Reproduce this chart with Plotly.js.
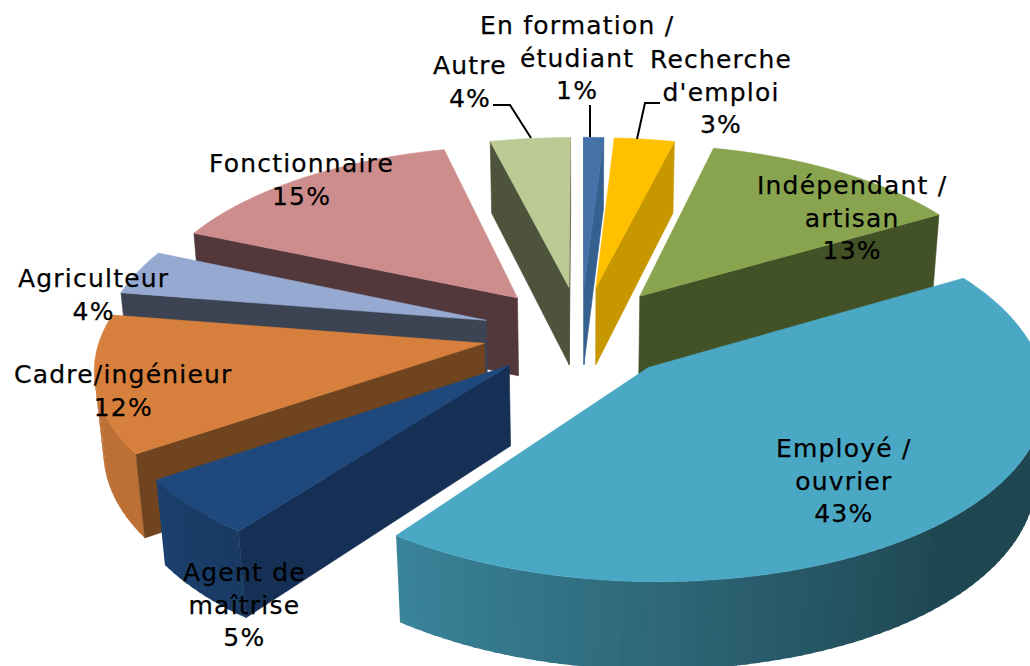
<!DOCTYPE html>
<html><head><meta charset="utf-8">
<script src="https://cdn.plot.ly/plotly-3.0.1.min.js"></script>
<style>html,body{margin:0;padding:0;background:#fff}#chart{width:1030px;height:666px}
.annotation-text{letter-spacing:1.2px;stroke:#000;stroke-width:.25px}</style>
</head><body><div id="chart"></div>
<script>
// ---- data ----
const categories = ["En formation /<br>étudiant","Recherche<br>d'emploi","Indépendant /<br>artisan","Employé /<br>ouvrier","Agent de<br>maîtrise","Cadre/ingénieur","Agriculteur","Fonctionnaire","Autre"];
const percents   = [1,3,13,43,5,12,4,15,4];
// ---- styles ----
const topColors  = ["#4472A8","#FFC000","#88A44E","#4AA8C4","#1F497D","#D77F3C","#95A9D1","#CD8D8D","#BCCB96"];
const wallColors = ["#34608F","#C79700","#435126","#1F4450","#152F55","#6F441F","#3C4454","#52383A","#4E533B"];
const labelX = [577,721,852,844,244,123,93,301,470];
const labelY = [58,92,218,481,605,391,295,180,82];
// ---- 3D exploded pie model ----
const PULL=0.26, THICK=0.24, F=380, CX=581, CY=332, ELEV=28*Math.PI/180, DIST=7.2, DISTX=6.1, SQUARE=4;
const S=Math.sin(ELEV), C=Math.cos(ELEV);
const rad=a=>a*Math.PI/180;
function project(p){const d=1+(p[1]*C-p[2]*S)/DIST, dx=1+(p[1]*C-p[2]*S)/DISTX;
  return [CX+F*p[0]/dx, CY-F*(p[1]*S+p[2]*C)/d-SQUARE*p[0]*p[0]];}
const CAM=[0,-DIST*C,DIST*S];
const dot3=(a,b)=>a[0]*b[0]+a[1]*b[1]+a[2]*b[2];
const sub3=(a,b)=>[a[0]-b[0],a[1]-b[1],a[2]-b[2]];
const total=percents.reduce((a,b)=>a+b,0);
function shade(hex,k){const n=parseInt(hex.slice(1),16);
  return `rgb(${Math.round((n>>16&255)*k)},${Math.round((n>>8&255)*k)},${Math.round((n&255)*k)})`;}
function outerLight(a){const t=Math.min(1,Math.max(0,(a-140)/(235-140)));return 0.42+t*0.46;}
function face(pts,color,name,lw){
  const xy=pts.map(project);
  xy.push(xy[0]);
  return {type:'scatter',mode:'lines',fill:'toself',fillcolor:color,name:name,
    x:xy.map(q=>q[0]),y:xy.map(q=>q[1]),line:{color:color,width:lw,simplify:false},
    hoverinfo:'skip',showlegend:false};
}
let cum=0;
const slices=percents.map((v,i)=>{const a0=cum/total*360;cum+=v;const a1=cum/total*360;
  return {i,a0,a1,mid:(a0+a1)/2};});
slices.sort((p,q)=>Math.cos(rad(q.mid))-Math.cos(rad(p.mid)));
const traces=[];
slices.forEach(s=>{
  const ox=PULL*Math.sin(rad(s.mid)), oy=PULL*Math.cos(rad(s.mid));
  const pt=(a,z)=>[ox+Math.sin(rad(a)),oy+Math.cos(rad(a)),z];
  const apexT=[ox,oy,0], apexB=[ox,oy,-THICK];
  const name=categories[s.i].replace('<br>',' ');
  // outer wall, first so that the crisp radial walls and the top sit over it
  const nSeg=Math.ceil((s.a1-s.a0)/1.5);
  for(let k=0;k<nSeg;k++){
    const a=s.a0+(s.a1-s.a0)*k/nSeg, b=s.a0+(s.a1-s.a0)*(k+1)/nSeg, m=(a+b)/2;
    const n=[Math.sin(rad(m)),Math.cos(rad(m)),0];
    if(dot3(n,sub3(CAM,pt(m,0)))>0){
      // each strip overlaps its neighbour so no seam shows
      const e=(k===nSeg-1)?b:b+0.6;
      traces.push(face([pt(a,0),pt(e,0),pt(e,-THICK),pt(a,-THICK)],shade(topColors[s.i],outerLight(m)),name,0));
    }
  }
  // radial walls
  [[s.a0,-1],[s.a1,1]].forEach(([a,sign])=>{
    const n=[sign*Math.cos(rad(a)),-sign*Math.sin(rad(a)),0];
    if(dot3(n,sub3(CAM,apexT))>0)
      traces.push(face([apexT,pt(a,0),pt(a,-THICK),apexB],wallColors[s.i],name,0.6));
  });
  // top
  const top=[apexT];const n2=Math.ceil((s.a1-s.a0)/2)+1;
  for(let k=0;k<=n2;k++)top.push(pt(s.a0+(s.a1-s.a0)*k/n2,0));
  traces.push(face(top,topColors[s.i],name,0.6));
});
const annotations=categories.map((c,i)=>({x:labelX[i],y:labelY[i],xref:'x',yref:'y',xanchor:'center',yanchor:'middle',
  showarrow:false,align:'center',text:c+'<br>'+percents[i]+'%',font:{family:'"DejaVu Sans"',size:25,color:'#000'}}));
const leader=(path)=>({type:'path',path,xref:'x',yref:'y',line:{color:'#000',width:2},fillcolor:'rgba(0,0,0,0)'});
const layout={width:1030,height:666,margin:{l:0,r:0,t:0,b:0},paper_bgcolor:'#fff',plot_bgcolor:'#fff',showlegend:false,
  xaxis:{range:[0,1030],visible:false,fixedrange:true},
  yaxis:{range:[666,0],visible:false,fixedrange:true},
  annotations,
  shapes:[leader('M493,105 L510,105 L531,138'),leader('M590,105 L590,137'),leader('M660,103 L645,103 L637,139')]};
Plotly.newPlot('chart',traces,layout,{displayModeBar:false,staticPlot:true});
</script></body></html>
